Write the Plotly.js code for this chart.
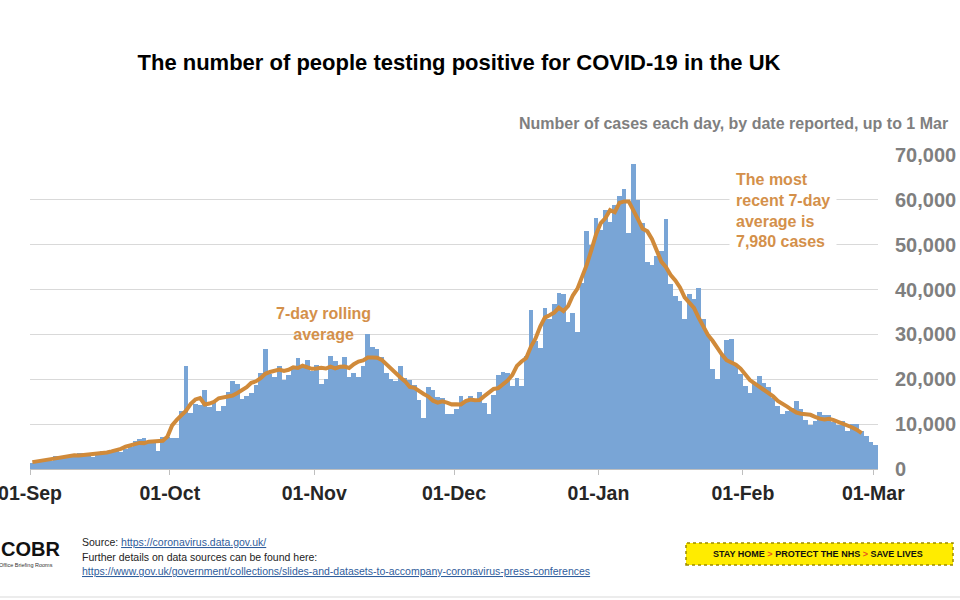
<!DOCTYPE html>
<html>
<head>
<meta charset="utf-8">
<script src="https://cdn.plot.ly/plotly-3.0.1.min.js"></script>
<style>html,body{margin:0;padding:0;background:#fff;}#chart{width:960px;height:600px;}</style>
</head>
<body>
<div id="chart"></div>
<script>
// ---- Data: daily cases by date reported (UK) ----
const startDate = '2020-09-01';
const sepCases = [1295,1508,1735,1940,1813,2988,2948,2460,2659,2919,3539,3497,3330,2621,3105,3991,3395,4322,4422,3899,4368,4926,6178,6634,6874,6042,5693,4044,7143,7108];
const octCases = [6914,6968,12872,22961,12594,14542,14162,17540,13864,15166,12872,13972,17234,19724,18980,15650,16171,16982,18804,21331,26688,21242,20530,23012,19790,20890,22885,24701,23065,24405,21915];
const novCases = [23254,18950,20018,25177,24141,23287,24957,20572,21350,20412,22950,30100,27301,26860,24962,21363,20051,19609,22915,20252,19875,18662,15450,11299,18213,17555,16022,15871,12155,12330];
const decCases = [13430,16170,14879,16298,15539,17272,14718,12282,16578,20964,21672,21502,18447,20263,18450,25161,35383,28507,27052,35928,33364,36804,39237,39036,32725,34693,30501,41385,53135,50023,55892];
const janCases = [53285,57725,54990,58784,60916,62322,52618,68053,59937,54940,46169,45533,47525,48682,55761,41346,38598,37535,33355,38905,37892,40261,33552,30004,22195,20089,25308,28680,29079,23275,21088];
const febCases = [18607,16840,19202,20634,19114,18262,15845,14104,12364,13013,13494,15144,13308,10972,9765,10625,12718,12057,12027,10406,9834,10641,8489,9938,9985,8523,7434,6035];
const marCases = [5455];

// ---- 7-day rolling average (centred) ----
const sepAvg = [1530,1630,1812,2032,2199,2363,2532,2761,3001,3050,3004,3096,3286,3354,3466,3598,3679,3929,4189,4501,4964,5329,5560,5816,5770,6087,6220,6260,6273,7249];
const octAvg = [9716,10937,11994,13002,14520,15505,15833,14391,14588,14973,15767,15973,16228,16372,16959,17649,18235,19229,19553,20250,21227,21628,21926,22148,21864,22125,22678,22522,23016,22739,22330];
const novAvg = [22398,22551,22392,22826,22443,22786,22842,22524,23375,23949,24221,24848,24850,24798,24321,23294,22287,21290,20390,19545,18295,18095,17329,16725,16153,15224,14778,15082,14790,14408];
const decAvg = [14448,14400,15131,15472,15308,15367,16236,17004,17855,18023,18815,19697,20923,22983,23959,24752,27249,29121,31743,33754,34275,34878,35970,35194,36340,38673,40214,42622,45559,48849,52348];
const janAvg = [54833,55945,57702,57234,59344,59660,59653,57851,55653,53539,52977,51221,48565,46231,44997,43257,42026,40485,38270,37157,35929,33738,31843,29900,28584,26987,25519,24245,23732,23268,22396];
const febAvg = [21246,19823,19107,18358,17714,17075,16191,15171,14604,13896,13200,12580,12332,12289,12084,11639,11224,11062,11187,10882,10485,10189,9688,9263,8721,7980];

// ---- Axis ticks ----
const xTickDates = ['2020-09-01','2020-10-01','2020-11-01','2020-12-01','2021-01-01','2021-02-01','2021-03-01'];
const xTickLabels = ['01-Sep','01-Oct','01-Nov','01-Dec','01-Jan','01-Feb','01-Mar'];
const yTickValues = [0,10000,20000,30000,40000,50000,60000,70000];

// ---- Build series ----
const cases = [].concat(sepCases, octCases, novCases, decCases, janCases, febCases, marCases);
const avg = [].concat(sepAvg, octAvg, novAvg, decAvg, janAvg, febAvg);
function dayList(n){
  const out = []; const d0 = new Date(startDate + 'T00:00:00Z');
  for (let i = 0; i < n; i++){ const d = new Date(d0.getTime() + i*86400000); out.push(d.toISOString().slice(0,10)); }
  return out;
}
const caseDates = dayList(cases.length);
const avgDates = dayList(avg.length);

// ---- Layout helpers (pixel -> paper) ----
const PL = 30, PR = 878, PT = 155, PB = 469;
const px = x => (x - PL) / (PR - PL);
const py = y => (PB - y) / (PB - PT);

const FONT = '"Liberation Sans", Arial, Helvetica, sans-serif';
const ORANGE_TXT = '#D4904A';
const linkStyle = 'color:#2F5D9C;text-decoration:underline';

const traces = [
  {
    type: 'bar', x: caseDates, y: cases,
    xperiod: 86400000, xperiodalignment: 'middle',
    marker: {color: '#79A5D6', line: {width: 0}},
    hoverinfo: 'skip'
  },
  {
    type: 'scatter', mode: 'lines', x: avgDates, y: avg,
    xperiod: 86400000, xperiodalignment: 'middle',
    line: {color: '#D08A3A', width: 4},
    hoverinfo: 'skip'
  }
];

const layout = {
  width: 960, height: 600,
  margin: {l: PL, r: 960 - PR, t: PT, b: 600 - PB, pad: 0},
  paper_bgcolor: '#ffffff', plot_bgcolor: '#ffffff',
  bargap: 0, showlegend: false, hovermode: false,
  font: {family: FONT},
  title: {
    text: 'The number of people testing positive for COVID-19 in the UK',
    font: {family: FONT, size: 22, color: '#000000', weight: 'bold'},
    xref: 'container', yref: 'container',
    x: 459/960, xanchor: 'center', y: 1 - 62/600, yanchor: 'middle'
  },
  xaxis: {
    type: 'date', range: ['2020-09-01', '2021-03-02'],
    tickmode: 'array', tickvals: xTickDates, ticktext: xTickLabels,
    showgrid: false, zeroline: false,
    showline: true, linecolor: '#bfbfbf', linewidth: 1,
    ticks: 'outside', ticklen: 5, tickcolor: '#bfbfbf', tickwidth: 1,
    tickfont: {family: FONT, size: 19.5, color: '#262626', weight: 'bold'},
    ticklabelstandoff: 2,
    ticklabeloverflow: 'allow',
    fixedrange: true
  },
  yaxis: {
    side: 'right', range: [0, 70000],
    tickmode: 'array', tickvals: yTickValues, tickformat: ',d',
    showgrid: true, gridcolor: '#d9d9d9', gridwidth: 1,
    zeroline: false, showline: false, ticks: '',
    tickfont: {family: FONT, size: 20, color: '#7f7f7f', weight: 'bold'},
    ticklabelstandoff: 16,
    ticklabeloverflow: 'allow',
    fixedrange: true
  },
  shapes: [
    {type: 'rect', xref: 'paper', yref: 'paper', x0: px(686), x1: px(953), y0: py(565), y1: py(543),
     fillcolor: '#FFEC00', line: {color: '#9c8a00', width: 1.5, dash: 'dot'}, layer: 'above'},
    {type: 'line', xref: 'paper', yref: 'paper', x0: px(0), x1: px(960), y0: py(597), y1: py(597),
     line: {color: '#d9d9d9', width: 1}}
  ],
  annotations: [
    {xref: 'paper', yref: 'paper', x: px(950), y: py(123), xanchor: 'right', yanchor: 'middle',
     text: 'Number of cases each day, by date reported, up to 1 Mar', showarrow: false,
     font: {family: FONT, size: 16, color: '#7f7f7f', weight: 'bold'}},
    {xref: 'paper', yref: 'paper', x: px(323), y: py(323.5), xanchor: 'center', yanchor: 'middle',
     text: '7-day rolling<br>average', showarrow: false, align: 'center',
     font: {family: FONT, size: 16, color: ORANGE_TXT, weight: 'bold'}},
    {xref: 'paper', yref: 'paper', x: px(729), y: py(210), xanchor: 'left', yanchor: 'middle',
     text: 'The most<br>recent 7-day<br>average is<br>7,980 cases', showarrow: false, align: 'left',
     bgcolor: '#ffffff', borderpad: 6,
     font: {family: FONT, size: 16, color: ORANGE_TXT, weight: 'bold'}},
    {xref: 'paper', yref: 'paper', x: px(-1), y: py(549), xanchor: 'left', yanchor: 'middle',
     text: 'COBR', showarrow: false,
     font: {family: FONT, size: 20, color: '#111111', weight: 'bold'}},
    {xref: 'paper', yref: 'paper', x: px(-3), y: py(565), xanchor: 'left', yanchor: 'middle',
     text: 'Office Briefing Rooms', showarrow: false,
     font: {family: FONT, size: 5.5, color: '#333333'}},
    {xref: 'paper', yref: 'paper', x: px(80), y: py(542), xanchor: 'left', yanchor: 'middle',
     text: 'Source: <span style="' + linkStyle + '">https://coronavirus.data.gov.uk/</span>', showarrow: false,
     font: {family: FONT, size: 10.5, color: '#222222'}},
    {xref: 'paper', yref: 'paper', x: px(80), y: py(556.5), xanchor: 'left', yanchor: 'middle',
     text: 'Further details on data sources can be found here:', showarrow: false,
     font: {family: FONT, size: 10.5, color: '#222222'}},
    {xref: 'paper', yref: 'paper', x: px(80), y: py(571), xanchor: 'left', yanchor: 'middle',
     text: '<span style="' + linkStyle + '">https://www.gov.uk/government/collections/slides-and-datasets-to-accompany-coronavirus-press-conferences</span>', showarrow: false,
     font: {family: FONT, size: 10.5, color: '#2F5D9C'}},
    {xref: 'paper', yref: 'paper', x: px(818), y: py(554), xanchor: 'center', yanchor: 'middle',
     text: 'STAY HOME <span style="color:#E8561E">&gt;</span> PROTECT THE NHS <span style="color:#E8561E">&gt;</span> SAVE LIVES', showarrow: false,
     font: {family: '"Liberation Sans Narrow", "Arial Narrow", ' + FONT, size: 9, color: '#111111', weight: 'bold'}}
  ]
};

Plotly.newPlot('chart', traces, layout, {staticPlot: true, displayModeBar: false});
</script>
</body>
</html>
